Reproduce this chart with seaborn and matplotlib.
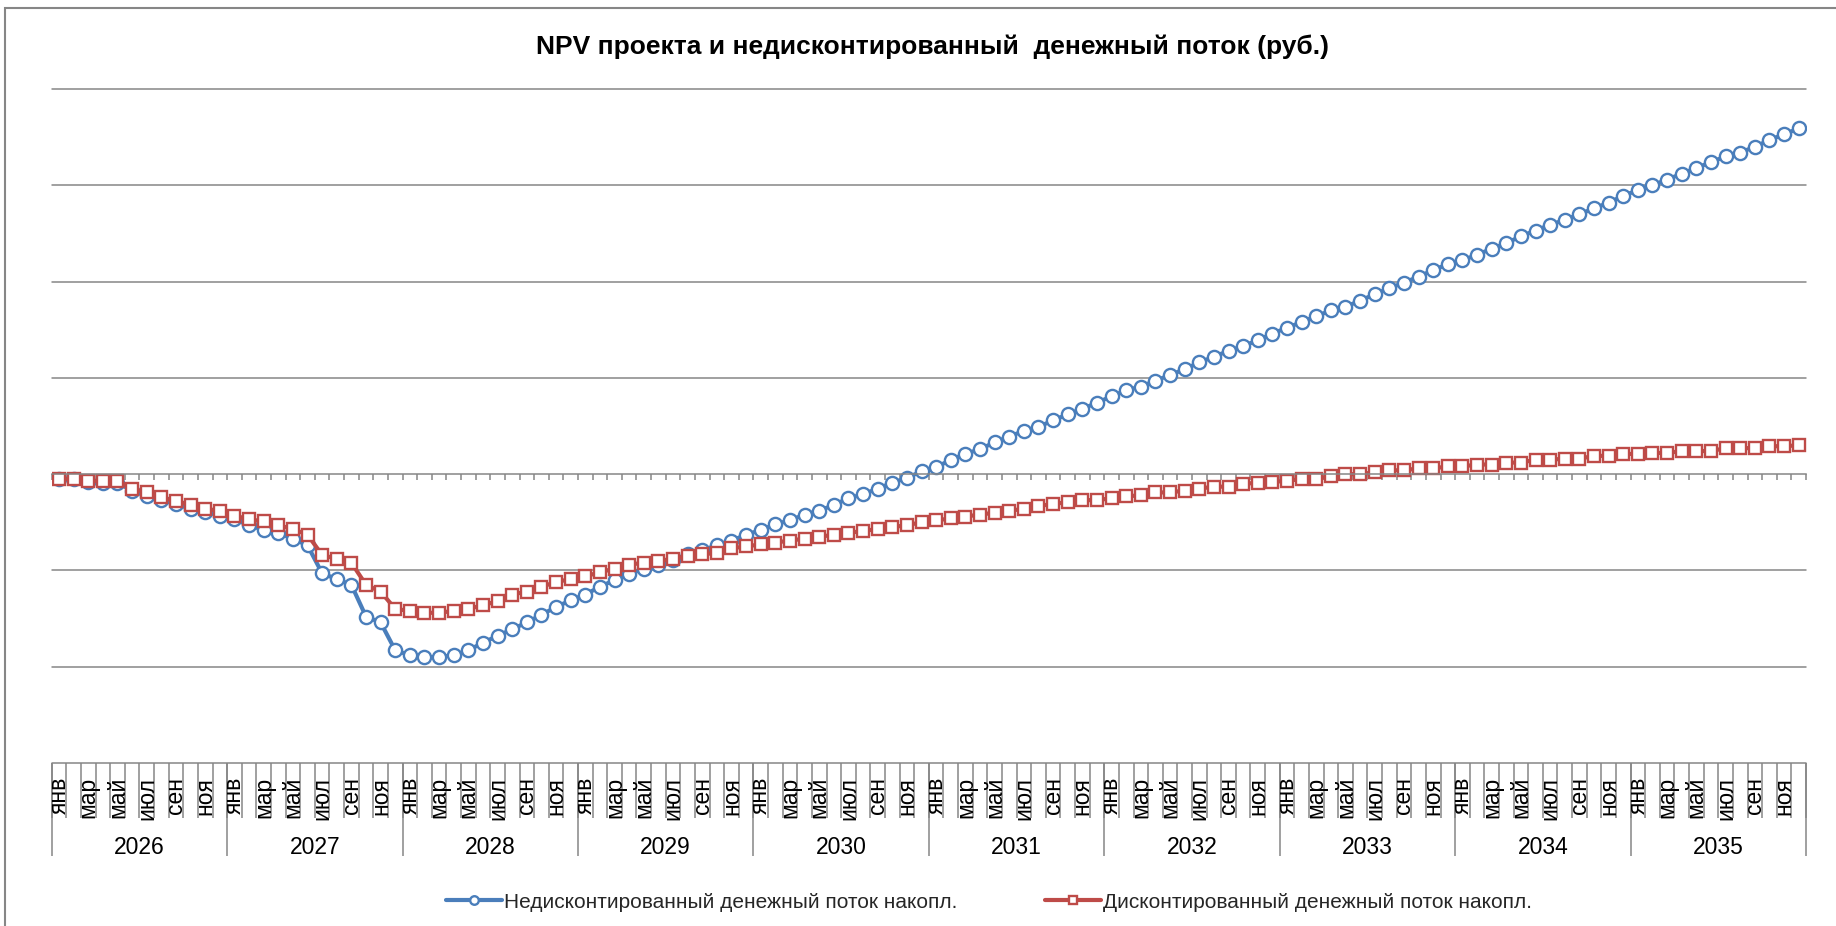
import numpy as np
import pandas as pd
import matplotlib.pyplot as plt
import seaborn as sns
from matplotlib.patches import Rectangle

# Периоды
years = [2026, 2027, 2028, 2029, 2030, 2031, 2032, 2033, 2034, 2035]
months = ["янв", "фев", "мар", "апр", "май", "июн",
          "июл", "авг", "сен", "окт", "ноя", "дек"]

# Накопленный денежный поток, млн руб.
undiscounted = [
    -0.5, -0.5, -0.8, -0.9, -0.9, -1.7, -2.3, -2.7, -3.1, -3.6, -3.9, -4.3,
    -4.7, -5.3, -5.8, -6.1, -6.7, -7.4, -10.3, -10.9, -11.5, -14.8, -15.4, -18.3,
    -18.8, -19.0, -19.0, -18.8, -18.3, -17.5, -16.8, -16.1, -15.4, -14.6, -13.8, -13.1,
    -12.5, -11.7, -11.0, -10.4, -9.8, -9.4, -8.9, -8.3, -7.9, -7.4, -6.9, -6.3,
    -5.8, -5.2, -4.8, -4.2, -3.8, -3.2, -2.5, -2.1, -1.5, -0.9, -0.4, 0.3,
    0.7, 1.5, 2.1, 2.6, 3.3, 3.9, 4.5, 4.9, 5.6, 6.2, 6.8, 7.4,
    8.1, 8.7, 9.1, 9.7, 10.3, 10.9, 11.6, 12.2, 12.8, 13.3, 13.9, 14.6,
    15.2, 15.8, 16.4, 17.0, 17.4, 18.0, 18.7, 19.3, 19.9, 20.5, 21.2, 21.8,
    22.2, 22.8, 23.4, 24.0, 24.7, 25.3, 25.9, 26.4, 27.0, 27.6, 28.2, 28.9,
    29.5, 30.0, 30.6, 31.2, 31.8, 32.4, 33.0, 33.4, 34.0, 34.7, 35.3, 35.9,
]
discounted = [
    -0.5, -0.5, -0.7, -0.7, -0.7, -1.5, -1.9, -2.4, -2.8, -3.2, -3.6, -3.8,
    -4.3, -4.7, -4.9, -5.3, -5.7, -6.3, -8.4, -8.8, -9.2, -11.5, -12.2, -14.0,
    -14.2, -14.4, -14.4, -14.2, -14.0, -13.6, -13.2, -12.5, -12.2, -11.7, -11.2, -10.9,
    -10.6, -10.2, -9.8, -9.4, -9.2, -9.0, -8.8, -8.5, -8.3, -8.2, -7.7, -7.5,
    -7.3, -7.1, -6.9, -6.7, -6.5, -6.3, -6.1, -5.9, -5.7, -5.5, -5.3, -5.0,
    -4.8, -4.6, -4.4, -4.2, -4.0, -3.8, -3.6, -3.3, -3.1, -2.9, -2.7, -2.7,
    -2.5, -2.3, -2.2, -1.9, -1.9, -1.7, -1.5, -1.3, -1.3, -1.0, -0.9, -0.8,
    -0.7, -0.5, -0.5, -0.2, 0.0, 0.0, 0.2, 0.4, 0.4, 0.6, 0.6, 0.8,
    0.8, 1.0, 1.0, 1.2, 1.2, 1.5, 1.5, 1.6, 1.6, 1.9, 1.9, 2.1,
    2.1, 2.2, 2.2, 2.4, 2.4, 2.4, 2.7, 2.7, 2.7, 2.9, 2.9, 3.0,
]

title = "NPV проекта и недисконтированный  денежный поток (руб.)"
label_undisc = "Недисконтированный денежный поток накопл."
label_disc = "Дисконтированный денежный поток накопл."


def main():
    sns.set_theme(style="white")
    plt.rcParams["font.family"] = ["Liberation Sans", "DejaVu Sans"]

    n = len(years) * len(months)
    df = pd.DataFrame({
        "period": np.arange(n),
        "undisc": undiscounted,
        "disc": discounted,
    })

    blue = "#4A7EBB"
    red = "#BE4B48"
    grey = "#868686"
    W, H = 1836, 926

    fig = plt.figure(figsize=(W / 100, H / 100), dpi=100, facecolor="white")
    ax = fig.add_axes([51.7 / W, 1 - 763 / H, (1806 - 51.7) / W, (763 - 89) / H])

    sns.lineplot(data=df, x="period", y="undisc", ax=ax, color=blue, lw=3.0,
                 marker="o", markersize=9.5, markerfacecolor="white",
                 markeredgecolor=blue, markeredgewidth=1.7, label=label_undisc)
    sns.lineplot(data=df, x="period", y="disc", ax=ax, color=red, lw=3.0,
                 marker="s", markersize=9.3, markerfacecolor="white",
                 markeredgecolor=red, markeredgewidth=1.7, label=label_disc)

    ax.set_xlim(-0.5, n - 0.5)
    ax.set_ylim(-30, 40)
    ax.set_xlabel("")
    ax.set_ylabel("")
    ax.set_yticks([])

    # горизонтальные линии сетки
    for y in range(-20, 41, 10):
        if y != 0:
            ax.axhline(y, color=grey, lw=1.1, clip_on=False, zorder=0.5)

    # ось X на нуле с делениями
    for s in ["top", "right", "left"]:
        ax.spines[s].set_visible(False)
    ax.spines["bottom"].set_position(("data", 0))
    ax.spines["bottom"].set_color(grey)
    ax.spines["bottom"].set_linewidth(1.1)
    bounds = np.arange(n + 1) - 0.5
    ax.set_xticks(bounds)
    ax.set_xticklabels([])
    ax.tick_params(axis="x", bottom=True, direction="out", length=4.5,
                   width=1.1, color=grey)

    # таблица подписей внизу
    axh = ax.get_xaxis_transform()
    ph = 763 - 89
    ax.axhline(-30, color=grey, lw=1.1, clip_on=False, zorder=0.5)
    ax.vlines(bounds, -55 / ph, 0, transform=axh, color=grey, lw=1.1, clip_on=False)
    ax.vlines(bounds[::12], -93 / ph, 0, transform=axh, color=grey, lw=1.1, clip_on=False)
    for i in range(0, n, 2):
        ax.text(i, -14 / ph, months[i % 12], transform=axh, rotation=90,
                ha="center", va="top", fontsize=16.5, color="black")
    for k, yr in enumerate(years):
        ax.text(12 * k + 5.5, -84 / ph, str(yr), transform=axh,
                ha="center", va="center", fontsize=16.5, color="black")

    ax.get_legend().remove()
    handles, labels = ax.get_legend_handles_labels()
    fig.legend(handles, labels, loc="center", bbox_to_anchor=(989 / W, 1 - 902 / H),
               ncol=2, frameon=False, fontsize=15, handlelength=2.7,
               handletextpad=0.1, columnspacing=4.2, markerscale=0.65)

    fig.text(933 / W, 1 - 47 / H, title, ha="center", va="center",
             fontsize=19, fontweight="bold", color="black")

    # рамка области диаграммы
    fig.patches.append(Rectangle((5 / W, -0.1), 2, 1 - 8 / H + 0.1,
                                 transform=fig.transFigure, fill=False,
                                 ec=grey, lw=1.5))

    fig.savefig("out.png", dpi=100, facecolor="white")


if __name__ == "__main__":
    main()
